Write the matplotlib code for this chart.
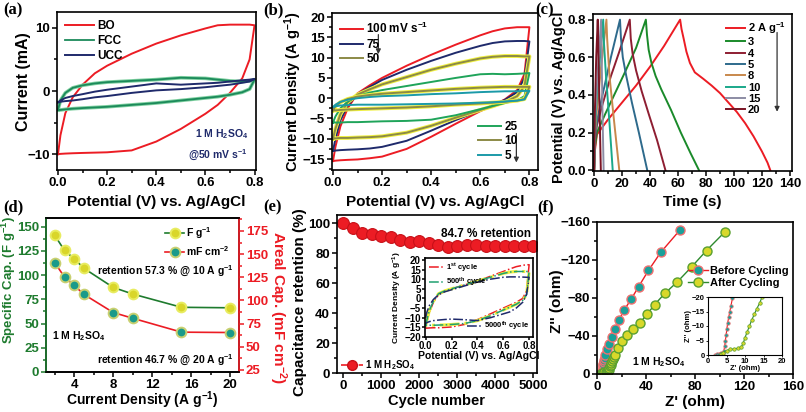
import matplotlib
matplotlib.use('Agg')
import matplotlib.pyplot as plt
from matplotlib.ticker import MultipleLocator
from matplotlib.lines import Line2D

plt.rcParams['font.family'] = ['Liberation Sans', 'DejaVu Sans']
plt.rcParams['font.weight'] = 'bold'
plt.rcParams['axes.labelweight'] = 'bold'
plt.rcParams['mathtext.fontset'] = 'custom'
plt.rcParams['mathtext.rm'] = 'Liberation Sans:bold'
plt.rcParams['mathtext.it'] = 'Liberation Sans:bold'
plt.rcParams['mathtext.bf'] = 'Liberation Sans:bold'
plt.rcParams['mathtext.default'] = 'rm'

W, H = 806, 412

# ---------------- data ----------------
# shared potential grid for the CV loops (V vs Ag/AgCl)
E_GRID = [0.0, 0.01, 0.03, 0.06, 0.1, 0.15, 0.2, 0.3, 0.4, 0.5, 0.6, 0.65, 0.7, 0.75, 0.78, 0.8]

# (a) CV @50 mV/s, current in mA (upper = anodic sweep, lower = cathodic sweep)
BO_UP = [-10, -7, -3.5, -1, 1.0, 2.8, 4.0, 5.9, 7.5, 8.8, 9.9, 10.4, 10.5, 10.5, 10.5, 10.4]
BO_LO = [-10, -9.95, -9.9, -9.85, -9.8, -9.75, -9.7, -9.4, -8.0, -6.0, -3.6, -2.2, -0.3, 2.0, 5.0, 10.4]
FCC_UP = [-3.0, -1.5, -0.3, 0.5, 0.9, 1.2, 1.4, 1.6, 1.8, 2.1, 2.0, 1.8, 1.6, 1.5, 1.6, 1.8]
FCC_LO = [-3.0, -3.0, -2.9, -2.8, -2.7, -2.6, -2.5, -2.2, -1.9, -1.5, -1.1, -0.9, -0.6, -0.2, 0.3, 1.8]
UCC_UP = [-1.8, -1.5, -1.1, -0.8, -0.5, -0.1, 0.2, 0.7, 1.2, 1.0, 1.2, 1.3, 1.5, 1.7, 1.8, 1.9]
UCC_LO = [-1.8, -1.7, -1.6, -1.5, -1.3, -1.0, -0.8, -0.3, 0.1, 0.3, 0.6, 0.8, 1.0, 1.3, 1.5, 1.9]

# (b) CV at different scan rates, A/g
B_RATES = ['100 mV s$^{-1}$', '75', '50', '25', '10', '5']
B_UP = [
    [-15.5, -12, -7, -2.5, 1.2, 3.2, 5.0, 8.0, 10.7, 13.2, 15.5, 16.5, 17.2, 17.5, 17.5, 17.5],
    [-13, -10, -5.5, -1.8, 1.0, 2.8, 4.5, 7.0, 9.2, 11.2, 12.9, 13.6, 14.0, 14.1, 14.1, 14.0],
    [-10, -7.5, -4, -1, 0.9, 2.2, 3.4, 5.2, 7.0, 8.5, 9.8, 10.2, 10.4, 10.4, 10.3, 10.3],
    [-6, -4.5, -2.5, -0.8, 0.5, 1.4, 2.0, 3.0, 4.0, 5.0, 5.9, 6.0, 5.9, 6.0, 6.1, 6.2],
    [-3, -2, -1, -0.2, 0.4, 0.8, 1.1, 1.5, 1.9, 2.3, 2.6, 2.7, 2.8, 2.8, 2.8, 2.8],
    [-2.2, -1.6, -0.9, -0.4, 0.0, 0.3, 0.5, 0.7, 1.0, 1.2, 1.5, 1.6, 1.7, 1.7, 1.8, 1.8],
]
B_LO = [
    [-15.5, -15.4, -15.3, -15.2, -15.1, -14.8, -14.4, -12.5, -9.5, -6.3, -3.2, -1.8, -0.3, 2.0, 6.0, 17.5],
    [-13, -12.9, -12.8, -12.7, -12.6, -12.4, -12.0, -10.5, -8.0, -5.4, -3.0, -1.8, -0.4, 1.5, 5.0, 14.0],
    [-10, -9.9, -9.8, -9.8, -9.7, -9.6, -9.4, -8.5, -6.8, -4.8, -2.9, -2.0, -1.0, 0.5, 3.0, 10.3],
    [-6, -6, -6, -5.9, -5.9, -5.8, -5.7, -5.6, -5.3, -4.2, -2.7, -1.9, -1.2, -0.5, 0.5, 6.2],
    [-3, -3, -2.9, -2.8, -2.7, -2.6, -2.5, -2.3, -2.0, -1.6, -1.3, -1.1, -0.9, -0.6, -0.2, 2.8],
    [-2.2, -2.0, -1.8, -1.7, -1.6, -1.6, -1.6, -1.5, -1.4, -1.3, -1.1, -1.0, -0.8, -0.6, -0.3, 1.8],
]

# (c) GCD curves: time (s), potential (V)
C_LABELS = ['2 A g$^{-1}$', '3', '4', '5', '8', '10', '15', '20']
C_T = [
    [0, 0.5, 2, 10, 20, 30, 40, 50, 61.5, 62.5, 64, 66, 68.5, 72, 78, 84, 90, 96, 102, 108, 114, 120, 124, 126],
    [0, 0.5, 2, 8, 15, 22, 30, 37, 37.8, 39, 41, 44, 48, 55, 62, 69, 75],
    [0, 0.5, 2, 6, 12, 18, 25.5, 26.2, 27.5, 30, 34, 39, 45, 51],
    [0, 0.5, 2, 6, 12, 18.5, 19.2, 20.5, 23, 27, 32, 38],
    [0, 0.5, 2, 5, 8.8, 9.3, 11, 14, 18],
    [0, 0.5, 2, 4, 6.5, 7, 8.5, 11, 13.3],
    [0, 0.5, 2, 3.5, 5, 5.3, 6, 6.8],
    [0, 0.5, 1.5, 2.6, 3, 3.8, 4.8],
]
C_V = [
    [0, 0.1, 0.19, 0.27, 0.36, 0.45, 0.55, 0.66, 0.8, 0.75, 0.7, 0.63, 0.57, 0.52, 0.486, 0.45, 0.41, 0.36, 0.31, 0.25, 0.18, 0.1, 0.04, 0],
    [0, 0.12, 0.2, 0.3, 0.41, 0.52, 0.65, 0.8, 0.72, 0.64, 0.57, 0.5, 0.43, 0.32, 0.2, 0.09, 0],
    [0, 0.15, 0.24, 0.35, 0.5, 0.63, 0.8, 0.7, 0.62, 0.53, 0.42, 0.3, 0.16, 0],
    [0, 0.16, 0.26, 0.4, 0.6, 0.8, 0.7, 0.6, 0.5, 0.36, 0.2, 0],
    [0, 0.18, 0.32, 0.55, 0.8, 0.7, 0.5, 0.28, 0],
    [0, 0.2, 0.4, 0.58, 0.8, 0.68, 0.5, 0.25, 0],
    [0, 0.25, 0.45, 0.63, 0.8, 0.65, 0.3, 0],
    [0, 0.3, 0.6, 0.8, 0.65, 0.35, 0],
]

# (d) rate capability
D_CURRENT = [2, 3, 4, 5, 8, 10, 15, 20]
D_SPECIFIC = [141, 125.5, 116.8, 107, 87.3, 80.5, 66.8, 66.3]
D_AREAL = [140.8, 125.2, 116.2, 106.5, 87.0, 80.8, 65.8, 65.4]

# (e) cycling stability
E_CYCLES = [0, 250, 500, 750, 1000, 1250, 1500, 1750, 2000, 2250, 2500, 2750,
            3000, 3250, 3500, 3750, 4000, 4250, 4500, 4750, 5000]
E_RETENTION = [100, 96.7, 93.3, 92.6, 91.8, 90.9, 88.9, 87.8, 88.0, 86.7, 85.6, 84.4,
               84.5, 85.3, 85.4, 85.0, 84.8, 84.7, 84.7, 84.7, 84.7]
# (e) inset CVs (A/g) on the same grid
IN_1ST_UP = [-15, -12, -7, -2, 2.0, 3.8, 5.0, 7.0, 9.0, 11.5, 14.0, 15.3, 16.5, 17.2, 17.5, 17.5]
IN_1ST_LO = [-15.5, -15.4, -15.3, -15.2, -15.2, -15.0, -14.8, -13.5, -11.0, -8.0, -5.0, -3.5, -2.0, 0.0, 4.0, 17.5]
IN_500_UP = [-14, -11, -6, -1.5, 2.5, 4.0, 5.0, 7.0, 9.0, 11.0, 13.0, 13.7, 14.0, 14.0, 14.0, 14.0]
IN_500_LO = [-14, -14, -13.9, -13.9, -13.8, -13.7, -13.5, -13.0, -11.5, -9.0, -6.0, -4.5, -3.0, -1.0, 2.0, 14.0]
IN_5000_UP = [-10, -7, -3.5, -0.5, 2.0, 3.5, 4.5, 6.5, 8.5, 10.0, 11.0, 11.2, 11.2, 11.1, 11.0, 11.0]
IN_5000_LO = [-13, -12.5, -12.0, -11.5, -11.2, -10.9, -10.7, -11.0, -11.5, -10.0, -8.0, -7.0, -5.0, -2.0, 2.0, 11.0]

# (f) Nyquist data (ohm)
BEFORE_RE = [2.0, 2.5, 3.0, 3.5, 4.0, 4.3, 4.5, 4.7, 4.9, 5.1, 5.3, 5.6, 5.9, 6.2, 6.6,
             8, 10, 12.5, 15, 18, 22, 28, 34, 42, 52, 68]
BEFORE_IM = [-0.1, -0.3, -0.5, -0.6, -0.7, -1.5, -3, -5, -7, -9, -11, -13, -15, -17, -19.5,
             -26, -32, -39, -47, -57, -67, -79, -92, -109, -128, -152]
AFTER_RE = [3.5, 4, 5, 6, 7, 8, 9, 9.5, 10, 10.6, 11.2, 11.8, 12.5, 13.2, 14, 14.6,
            17, 20.5, 24.6, 29.5, 35, 41, 47, 55.5, 65.6, 77.4, 89.4, 104.7]
AFTER_IM = [-0.2, -0.8, -1.5, -1.9, -2.1, -2.3, -2.8, -4, -6, -8, -10, -12, -14, -16, -18, -20,
            -27, -35, -41, -47, -54, -63, -73, -85, -97, -113, -130, -150]

RED = '#ec1c24'
NAVY = '#1f2a6b'
GREEN_D = '#1e7b2e'


def rect(l, t, r, b):
    return [l / W, 1 - b / H, (r - l) / W, (b - t) / H]


def style(ax, xminor=None, yminor=None, size=9.5):
    ax.tick_params(which='both', direction='out', labelsize=size, width=1.1, pad=1.5)
    ax.tick_params(which='major', length=3.5)
    ax.tick_params(which='minor', length=2.2)
    ax.tick_params(top=False, right=False)
    for s in ax.spines.values():
        s.set_linewidth(1.2)
    if xminor:
        ax.xaxis.set_minor_locator(MultipleLocator(xminor))
    if yminor:
        ax.yaxis.set_minor_locator(MultipleLocator(yminor))


def xlab(ax, text, y, size, **kw):
    ax.set_xlabel(text, fontsize=size, va='center', **kw)
    ax.xaxis.set_label_coords(0.5, y)


def ylab(ax, text, x, y, size, **kw):
    ax.set_ylabel(text, fontsize=size, va='center', ha='center', **kw)
    ax.yaxis.set_label_coords(x, y)


def loop(ax, up, lo, **kw):
    xs = E_GRID + E_GRID[::-1]
    ys = up + lo[::-1]
    return ax.plot(xs, ys, **kw)[0]


fig = plt.figure(figsize=(W / 100, H / 100), dpi=100)

# ---------------- (a) ----------------
ax = fig.add_axes(rect(57, 12, 256, 170))
h1 = loop(ax, BO_UP, BO_LO, color=RED, lw=1.4)
loop(ax, FCC_UP, FCC_LO, color='#7fd0a0', lw=2.6)
h2 = loop(ax, FCC_UP, FCC_LO, color='#1b8a5a', lw=1.3)
h3 = loop(ax, UCC_UP, UCC_LO, color=NAVY, lw=1.4)
ax.set_xlim(-0.004, 0.806)
ax.set_ylim(-12.5, 12.5)
ax.set_xticks([0, 0.2, 0.4, 0.6, 0.8])
ax.set_yticks([-10, 0, 10])
style(ax, 0.1, 5)
xlab(ax, 'Potential (V) vs. Ag/AgCl', -0.2, 11)
ylab(ax, 'Current (mA)', -0.166, 0.56, 11.5)
ax.legend([h1, h2, h3], ['BO', 'FCC', 'UCC'], loc='upper left', frameon=False, fontsize=8.5,
          handlelength=2.4, labelspacing=0.25, borderaxespad=0.3, handletextpad=0.3)
ax.text(0.96, 0.21, '1 M H$_2$SO$_4$', transform=ax.transAxes, ha='right', fontsize=7.5, color=NAVY)
ax.text(0.96, 0.07, '@50 mV s$^{-1}$', transform=ax.transAxes, ha='right', fontsize=7.5, color=NAVY)

# ---------------- (b) ----------------
ax = fig.add_axes(rect(332, 13, 538, 170))
b_colors = [RED, NAVY, '#8c8a46', '#1fa45a', '#8c8a46', '#1b9aa8']
b_halo = [None, None, '#f0f040', None, '#f0f040', None]
hb = []
for up, lo, c, hc in zip(B_UP, B_LO, b_colors, b_halo):
    if hc:
        loop(ax, up, lo, color=hc, lw=2.8)
    hb.append(loop(ax, up, lo, color=c, lw=1.4))
ax.set_xlim(-0.004, 0.835)
ax.set_ylim(-17.7, 21)
ax.set_xticks([0, 0.2, 0.4, 0.6, 0.8])
ax.set_yticks([-15, -10, -5, 0, 5, 10, 15, 20])
style(ax, 0.1, 2.5)
xlab(ax, 'Potential (V) vs. Ag/AgCl', -0.201, 11)
ylab(ax, 'Current Density (A g$^{-1}$)', -0.186, 0.5, 10.5)
lg = ax.legend(hb[:3], B_RATES[:3], loc='upper left', frameon=False, fontsize=8.5,
               handlelength=1.9, labelspacing=0.2, borderaxespad=0.3, handletextpad=0.3)
ax.add_artist(lg)
ax.legend(hb[3:], B_RATES[3:], loc='lower right', frameon=False, fontsize=8.5,
          handlelength=1.9, labelspacing=0.2, borderaxespad=0.3, handletextpad=0.3,
          bbox_to_anchor=(0.94, 0.0))
ax.annotate('', xy=(0.225, 0.72), xytext=(0.225, 0.88), xycoords='axes fraction',
            arrowprops=dict(arrowstyle='-|>', color='#333333', lw=0.9, mutation_scale=7))
ax.annotate('', xy=(0.895, 0.03), xytext=(0.895, 0.25), xycoords='axes fraction',
            arrowprops=dict(arrowstyle='-|>', color='#333333', lw=0.9, mutation_scale=7))

# ---------------- (c) ----------------
ax = fig.add_axes(rect(593, 14, 792, 171))
c_colors = [RED, '#1a8a2a', '#8e1e32', '#2e6a8c', '#c8884c', '#1aa88a', '#8c8ca4', '#7a1424']
hc_ = []
for t, v, c in zip(C_T, C_V, c_colors):
    hc_.append(ax.plot(t, v, color=c, lw=1.4)[0])
ax.set_xlim(-0.8, 141.5)
ax.set_ylim(-0.004, 0.83)
ax.set_xticks(range(0, 141, 20))
ax.set_yticks([0, 0.2, 0.4, 0.6, 0.8])
style(ax, 10, 0.1)
xlab(ax, 'Time (s)', -0.195, 11)
ylab(ax, 'Potential (V) vs. Ag/AgCl', -0.171, 0.47, 10.5)
ax.legend(hc_, C_LABELS, loc='upper right', frameon=False, fontsize=8,
          handlelength=1.7, labelspacing=0.12, borderaxespad=0.15, handletextpad=0.3,
          bbox_to_anchor=(1.0, 1.0))
ax.annotate('', xy=(0.925, 0.36), xytext=(0.925, 0.9), xycoords='axes fraction',
            arrowprops=dict(arrowstyle='-|>', color='#333333', lw=0.9, mutation_scale=7))

# ---------------- (d) ----------------
ax = fig.add_axes(rect(46, 218, 239, 372))
ax2 = ax.twinx()
hd1, = ax.plot(D_CURRENT, D_SPECIFIC, color=GREEN_D, lw=1.2, marker='o', ms=7,
               mfc='#d9d62a', mec='#e8ec60', mew=1.4)
hd2, = ax2.plot(D_CURRENT, D_AREAL, color=RED, lw=1.2, marker='o', ms=7,
                mfc='#1a9a8a', mec='#c8d070', mew=1.4)
ax.set_xlim(1.1, 20.9)
ax.set_ylim(0, 159)
ax2.set_ylim(22.8, 189)
ax.set_xticks([4, 8, 12, 16, 20])
ax.set_yticks([0, 25, 50, 75, 100, 125, 150])
ax2.set_yticks([25, 50, 75, 100, 125, 150, 175])
style(ax, 2, 12.5)
style(ax2, None, 12.5)
ax2.tick_params(which='both', right=True, left=False, colors=RED, labelcolor=RED)
ax.tick_params(axis='y', which='both', colors=GREEN_D, labelcolor=GREEN_D)
ax2.spines['left'].set_color(GREEN_D)
ax2.spines['right'].set_color(RED)
xlab(ax, 'Current Density (A g$^{-1}$)', -0.184, 10)
ylab(ax, 'Specific Cap. (F g$^{-1}$)', -0.194, 0.6, 9.5, color=GREEN_D)
ylab(ax2, 'Areal Cap. (mF cm$^{-2}$)', 1.2, 0.42, 11, color=RED, rotation=270)
ax2.legend([hd1, hd2], ['F g$^{-1}$', 'mF cm$^{-2}$'], loc='upper right', frameon=False,
           fontsize=7.5, handlelength=1.8, labelspacing=0.3, borderaxespad=0.3,
           handletextpad=0.2, bbox_to_anchor=(0.99, 1.0))
ax.text(0.975, 0.63, 'retention 57.3 % @ 10 A g$^{-1}$', transform=ax.transAxes,
        ha='right', fontsize=7.5)
ax.text(0.03, 0.21, '1 M H$_2$SO$_4$', transform=ax.transAxes, fontsize=7.5)
ax.text(0.975, 0.05, 'retention 46.7 % @ 20 A g$^{-1}$', transform=ax.transAxes,
        ha='right', fontsize=7.5)

# ---------------- (e) ----------------
ax = fig.add_axes(rect(337, 215, 537, 373))
he, = ax.plot(E_CYCLES, E_RETENTION, ls='none', marker='o', ms=8.5,
              mfc=RED, mec='#c81018', mew=0.8)
ax.set_xlim(-160, 5100)
ax.set_ylim(0, 105.5)
ax.set_xticks(range(0, 5001, 1000))
ax.set_yticks([0, 20, 40, 60, 80, 100])
style(ax, 500, 10)
xlab(ax, 'Cycle number', -0.177, 10.5)
ylab(ax, 'Capacitance retention (%)', -0.185, 0.45, 11)
hleg = Line2D([], [], color=RED, lw=1.2, ls='--', marker='o', ms=7, mfc=RED, mec='#c81018')
ax.legend([hleg], ['1 M H$_2$SO$_4$'], loc='lower left', frameon=False, fontsize=7,
          handlelength=2.2, borderaxespad=0.05, handletextpad=0.2, bbox_to_anchor=(0.0, -0.02))
ax.text(0.97, 0.86, '84.7 % retention', transform=ax.transAxes, ha='right', fontsize=8.5)

ai = fig.add_axes(rect(425, 258, 533, 337))
i1 = loop(ai, IN_1ST_UP, IN_1ST_LO, color=RED, lw=1.1, ls='-.')
loop(ai, IN_500_UP, IN_500_LO, color='#f0f040', lw=2.2, ls='-.')
i2 = loop(ai, IN_500_UP, IN_500_LO, color='#20a070', lw=1.1, ls='-.')
i3 = loop(ai, IN_5000_UP, IN_5000_LO, color=NAVY, lw=1.1, ls='-.')
ai.set_xlim(-0.005, 0.83)
ai.set_ylim(-20, 21)
ai.set_xticks([0, 0.2, 0.4, 0.6, 0.8])
ai.set_yticks(range(-20, 21, 5))
style(ai, None, None, size=7)
ai.tick_params(which='major', length=2, pad=1)
ai.set_xlabel('Potential (V) vs. Ag/AgCl', fontsize=7.5, labelpad=0)
ai.set_ylabel('Current Density (A g$^{-1}$)', fontsize=6, labelpad=0)
lg = ai.legend([i1, i2], ['1$^{st}$ cycle', '500$^{th}$ cycle'], loc='upper left', frameon=False,
               fontsize=5.5, handlelength=2.0, labelspacing=0.2, borderaxespad=0.1,
               handletextpad=0.2)
ai.add_artist(lg)
ai.legend([i3], ['5000$^{th}$ cycle'], loc='lower right', frameon=False, fontsize=5.5,
          handlelength=2.0, borderaxespad=0.1, handletextpad=0.2)

# ---------------- (f) ----------------
ax = fig.add_axes(rect(597, 222, 793, 374))
hf1, = ax.plot(BEFORE_RE, BEFORE_IM, color=RED, lw=1.0, marker='o', ms=6.5,
               mfc='#1aa09a', mec='#f07070', mew=1.0)
hf2, = ax.plot(AFTER_RE, AFTER_IM, color='#2e8a2e', lw=1.0, marker='o', ms=6.5,
               mfc='#d8d82a', mec='#5aa030', mew=1.0)
ax.set_xlim(0, 160)
ax.set_ylim(0, -160)
ax.set_xticks(range(0, 161, 40))
ax.set_yticks(range(0, -161, -40))
style(ax, 20, 20)
xlab(ax, "Z' (ohm)", -0.186, 11)
ylab(ax, "Z'' (ohm)", -0.204, 0.48, 11)
ax.legend([hf1, hf2], ['Before Cycling', 'After Cycling'], loc='upper right', frameon=False,
          fontsize=8, handlelength=1.8, labelspacing=0.15, borderaxespad=0.0,
          handletextpad=0.2, bbox_to_anchor=(1.0, 0.74))
ax.text(0.18, 0.06, '1 M H$_2$SO$_4$', transform=ax.transAxes, fontsize=7.5)

fi = fig.add_axes(rect(708, 297, 782, 355))
fi.plot(BEFORE_RE, BEFORE_IM, color=RED, lw=0.8, marker='o', ms=2.5,
        mfc='#1aa09a', mec='#f07070', mew=0.5)
fi.plot(AFTER_RE, AFTER_IM, color='#2e8a2e', lw=0.8, marker='o', ms=2.5,
        mfc='#d8d82a', mec='#5aa030', mew=0.5)
fi.set_xlim(0, 20)
fi.set_ylim(0, -20)
fi.set_xticks(range(0, 21, 5))
fi.set_yticks(range(0, -21, -5))
style(fi, None, None, size=5.5)
fi.tick_params(which='major', length=1.5, width=0.6, pad=1)
for s in fi.spines.values():
    s.set_linewidth(0.8)
fi.set_xlabel("Z' (ohm)", fontsize=5.5, labelpad=0)
fi.set_ylabel("Z'' (ohm)", fontsize=5.5, labelpad=0)

# ---------------- panel letters ----------------
for lab, x, y in [('(a)', 3, 2), ('(b)', 263, 2), ('(c)', 535, 2),
                  ('(d)', 3, 199), ('(e)', 263, 199), ('(f)', 537, 199)]:
    fig.text(x / W, 1 - y / H, lab, family=['Liberation Serif', 'DejaVu Serif'],
             fontsize=12, weight='bold', va='top')

fig.savefig('out.png', dpi=100)
